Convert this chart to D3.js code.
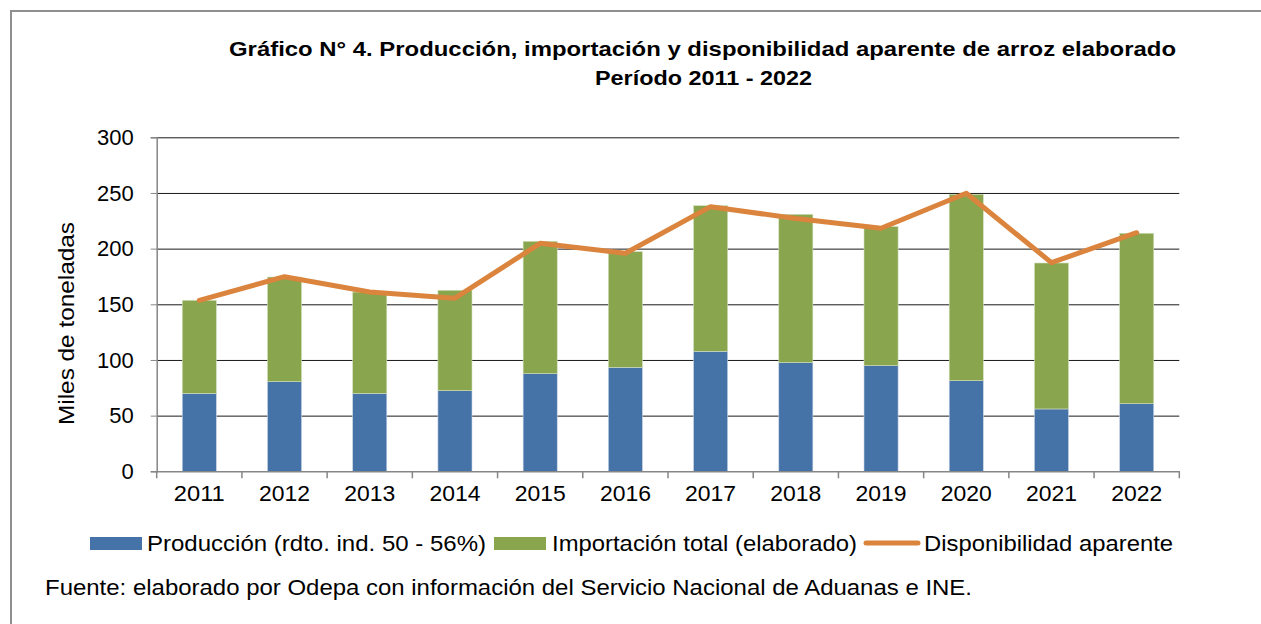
<html>
<head>
<meta charset="utf-8">
<style>
  body { margin: 0; background: #fff; }
  text { font-family: Arial, "Liberation Sans", sans-serif; fill: #000; }
</style>
</head>
<body>
<svg id="container" width="1261" height="624"></svg>
<script src="https://cdn.jsdelivr.net/npm/d3@7"></script>
<script>
// datos (miles de toneladas)
let years = ["2011","2012","2013","2014","2015","2016","2017","2018","2019","2020","2021","2022"]
let produccion = [70, 80.5, 70, 72.4, 87.7, 93.4, 107.8, 97.6, 94.9, 81.4, 56, 60.7]
let importacion = [83.6, 94, 91, 90.2, 118.9, 103.9, 130.8, 133.2, 125, 167.4, 131.1, 153.1]
let disponibilidad = [153.5, 174.8, 161, 155.5, 204.8, 195.8, 237.7, 227, 218.3, 249.7, 187.4, 214.3]
let yTicks = [0, 50, 100, 150, 200, 250, 300]
let seriesNames = ["Producción (rdto. ind. 50 - 56%)", "Importación total (elaborado)", "Disponibilidad aparente"]

let colors = ["#4572A7", "#89A54E", "#DB843D"]

let svg = d3.select("#container")

// el texto del original esta algo estirado en horizontal
function stretch(sel, len) {
  return sel.attr("textLength", len).attr("lengthAdjust", "spacingAndGlyphs")
}

// marco
svg.append("path")
  .attr("d", "M11,624 V11 H1261")
  .attr("fill", "none")
  .attr("stroke", "#8f8f8f")
  .attr("stroke-width", 2)

// titulo
stretch(svg.append("text").attr("x", 229).attr("y", 56)
  .attr("font-weight", "bold").attr("font-size", 21)
  .text("Gráfico N° 4. Producción, importación y disponibilidad aparente de arroz elaborado"), 947)
stretch(svg.append("text").attr("x", 595).attr("y", 85)
  .attr("font-weight", "bold").attr("font-size", 21)
  .text("Período 2011 - 2022"), 217)

let plotLeft = 156.7, plotRight = 1179.3, plotTop = 137.3, plotBottom = 471.3

let x = d3.scaleBand().domain(years).range([plotLeft, plotRight])
  .paddingInner(0.6).paddingOuter(0.3)
let y = d3.scaleLinear().domain([0, 300]).range([plotBottom, plotTop])

// grilla
svg.append("g")
  .attr("transform", `translate(${plotLeft},0)`)
  .call(d3.axisLeft(y).tickValues(yTicks.slice(1)).tickSize(-(plotRight - plotLeft)).tickFormat(""))
  .call(g => g.select(".domain").remove())
  .selectAll("line").attr("stroke", "#1a1a1a")

// barras apiladas
let stacked = years.map((yr, i) => ({ yr: yr, p: produccion[i], m: importacion[i] }))
let bars = svg.append("g")
bars.selectAll(".prod").data(stacked).enter().append("rect")
  .attr("x", d => x(d.yr)).attr("width", x.bandwidth())
  .attr("y", d => y(d.p)).attr("height", d => y(0) - y(d.p))
  .attr("fill", colors[0]).attr("stroke", "#c9d6e6").attr("stroke-width", 0.6)
bars.selectAll(".imp").data(stacked).enter().append("rect")
  .attr("x", d => x(d.yr)).attr("width", x.bandwidth())
  .attr("y", d => y(d.p + d.m)).attr("height", d => y(d.p) - y(d.p + d.m))
  .attr("fill", colors[1]).attr("stroke", "#d3e0bd").attr("stroke-width", 0.6)

// ejes
let yAxis = svg.append("g")
  .attr("transform", `translate(${plotLeft},0)`)
  .call(d3.axisLeft(y).tickValues(yTicks).tickSize(6).tickPadding(17))
yAxis.select(".domain").attr("stroke", "#868686").attr("stroke-width", 1.5)
yAxis.selectAll("line").attr("stroke", "#868686")
yAxis.selectAll("text").attr("font-size", 22).attr("font-family", "Arial, 'Liberation Sans', sans-serif").attr("fill", "#000")

let xAxis = svg.append("g")
  .attr("transform", `translate(0,${plotBottom})`)
  .call(d3.axisBottom(x).tickSize(0).tickPadding(14))
xAxis.select(".domain").attr("stroke", "#868686").attr("stroke-width", 1.5)
xAxis.selectAll("text").attr("font-size", 22.5).attr("font-family", "Arial, 'Liberation Sans', sans-serif").attr("fill", "#000")
  .attr("textLength", 51).attr("lengthAdjust", "spacingAndGlyphs")
// marcas entre categorias
let bounds = d3.range(years.length + 1).map(i => plotLeft + i * x.step())
svg.append("g").selectAll("line").data(bounds).enter().append("line")
  .attr("x1", d => d).attr("x2", d => d)
  .attr("y1", plotBottom).attr("y2", plotBottom + 7)
  .attr("stroke", "#868686").attr("stroke-width", 1.5)

// linea disponibilidad
let line = d3.line()
  .x((d, i) => x(years[i]) + x.bandwidth() / 2)
  .y(d => y(d))
svg.append("path").datum(disponibilidad)
  .attr("d", line)
  .attr("fill", "none")
  .attr("stroke", colors[2])
  .attr("stroke-width", 5)
  .attr("stroke-linejoin", "round")
  .attr("stroke-linecap", "round")

// titulo eje y
stretch(svg.append("text")
  .attr("transform", "translate(74,425) rotate(-90)")
  .attr("font-size", 22)
  .text("Miles de toneladas"), 203)

// leyenda
let lg = svg.append("g")
lg.append("rect").attr("x", 90).attr("y", 537).attr("width", 52).attr("height", 13).attr("fill", colors[0])
stretch(lg.append("text").attr("x", 147).attr("y", 551).attr("font-size", 22).text(seriesNames[0]), 339)
lg.append("rect").attr("x", 494).attr("y", 537).attr("width", 52).attr("height", 13).attr("fill", colors[1])
stretch(lg.append("text").attr("x", 552).attr("y", 551).attr("font-size", 22).text(seriesNames[1]), 305)
lg.append("line").attr("x1", 866).attr("x2", 918).attr("y1", 543).attr("y2", 543)
  .attr("stroke", colors[2]).attr("stroke-width", 5).attr("stroke-linecap", "round")
stretch(lg.append("text").attr("x", 924).attr("y", 551).attr("font-size", 22).text(seriesNames[2]), 249)

// fuente
stretch(svg.append("text").attr("x", 45).attr("y", 595).attr("font-size", 22)
  .text("Fuente: elaborado por Odepa con información del Servicio Nacional de Aduanas e INE."), 927)
</script>
</body>
</html>
